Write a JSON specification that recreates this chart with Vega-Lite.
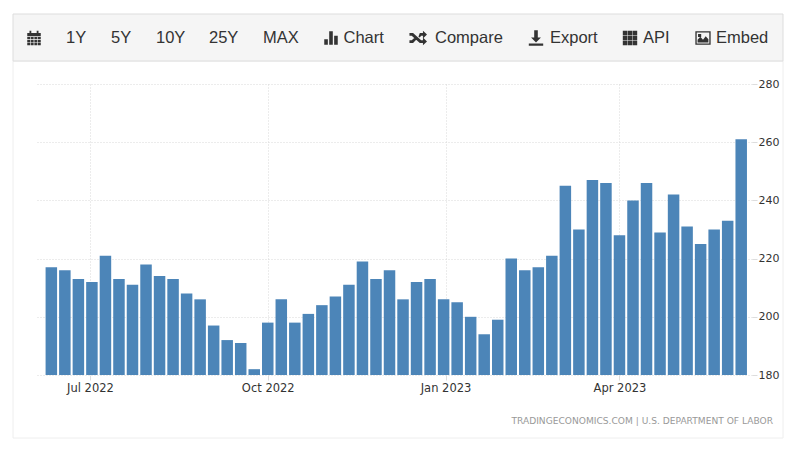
{"$schema":"https://vega.github.io/schema/vega-lite/v6.json","autosize":{"type":"none"},"width":715,"height":291,"padding":{"left":37,"top":84,"right":48,"bottom":78},"background":"#ffffff","config":{"view":{"stroke":null}},
"datasets":{"claims":[{"week":"2022-06-11","claims":217},{"week":"2022-06-18","claims":216},{"week":"2022-06-25","claims":213},{"week":"2022-07-02","claims":212},{"week":"2022-07-09","claims":221},{"week":"2022-07-16","claims":213},{"week":"2022-07-23","claims":211},{"week":"2022-07-30","claims":218},{"week":"2022-08-06","claims":214},{"week":"2022-08-13","claims":213},{"week":"2022-08-20","claims":208},{"week":"2022-08-27","claims":206},{"week":"2022-09-03","claims":197},{"week":"2022-09-10","claims":192},{"week":"2022-09-17","claims":191},{"week":"2022-09-24","claims":182},{"week":"2022-10-01","claims":198},{"week":"2022-10-08","claims":206},{"week":"2022-10-15","claims":198},{"week":"2022-10-22","claims":201},{"week":"2022-10-29","claims":204},{"week":"2022-11-05","claims":207},{"week":"2022-11-12","claims":211},{"week":"2022-11-19","claims":219},{"week":"2022-11-26","claims":213},{"week":"2022-12-03","claims":216},{"week":"2022-12-10","claims":206},{"week":"2022-12-17","claims":212},{"week":"2022-12-24","claims":213},{"week":"2022-12-31","claims":206},{"week":"2023-01-07","claims":205},{"week":"2023-01-14","claims":200},{"week":"2023-01-21","claims":194},{"week":"2023-01-28","claims":199},{"week":"2023-02-04","claims":220},{"week":"2023-02-11","claims":216},{"week":"2023-02-18","claims":217},{"week":"2023-02-25","claims":221},{"week":"2023-03-04","claims":245},{"week":"2023-03-11","claims":230},{"week":"2023-03-18","claims":247},{"week":"2023-03-25","claims":246},{"week":"2023-04-01","claims":228},{"week":"2023-04-08","claims":240},{"week":"2023-04-15","claims":246},{"week":"2023-04-22","claims":229},{"week":"2023-04-29","claims":242},{"week":"2023-05-06","claims":231},{"week":"2023-05-13","claims":225},{"week":"2023-05-20","claims":230},{"week":"2023-05-27","claims":233},{"week":"2023-06-03","claims":261}],
"labels":[{"label":"1Y","slot":1,"row":"toolbar"},{"label":"5Y","slot":2,"row":"toolbar"},{"label":"10Y","slot":3,"row":"toolbar"},{"label":"25Y","slot":4,"row":"toolbar"},{"label":"MAX","slot":5,"row":"toolbar"},{"label":"Chart","slot":6,"row":"toolbar"},{"label":"Compare","slot":7,"row":"toolbar"},{"label":"Export","slot":8,"row":"toolbar"},{"label":"API","slot":9,"row":"toolbar"},{"label":"Embed","slot":10,"row":"toolbar"}],
"icons":[{"icon":"calendar","slot":1,"row":"toolbar"},{"icon":"chart","slot":2,"row":"toolbar"},{"icon":"compare","slot":3,"row":"toolbar"},{"icon":"export","slot":4,"row":"toolbar"},{"icon":"api","slot":5,"row":"toolbar"},{"icon":"embed","slot":6,"row":"toolbar"}],
"panels":[{"panel":"frame"}],"bars":[{"panel":"toolbar"}],"source":[{"text":"TRADINGECONOMICS.COM | U.S. DEPARTMENT OF LABOR","row":"source"}]},
"resolve":{"scale":{"x":"independent","y":"independent","shape":"independent"},"axis":{"x":"independent","y":"independent"}},
"layer":[
{"data":{"name":"panels"},"mark":{"type":"rect","fillOpacity":0,"stroke":"#eeeeee","strokeWidth":1},"encoding":{"x":{"field":"panel","type":"nominal","axis":null,"scale":{"type":"band","domain":["frame"],"range":[-24,746],"paddingInner":0,"paddingOuter":0}},"y":{"field":"panel","type":"nominal","axis":null,"scale":{"type":"band","domain":["frame"],"range":[-23,354],"paddingInner":0,"paddingOuter":0}}}},
{"data":{"name":"bars"},"mark":{"type":"rect","fill":"#f5f5f5","stroke":"#dddddd","strokeWidth":1},"encoding":{"x":{"field":"panel","type":"nominal","axis":null,"scale":{"type":"band","domain":["toolbar"],"range":[-24,746],"paddingInner":0,"paddingOuter":0}},"y":{"field":"panel","type":"nominal","axis":null,"scale":{"type":"band","domain":["toolbar"],"range":[-70,-23],"paddingInner":0,"paddingOuter":0}}}},
{"data":{"name":"claims"},"mark":{"type":"bar","size":11.5,"color":"#4c85b8","clip":true},"encoding":{"x":{"field":"week","type":"temporal","title":null,"scale":{"type":"utc","nice":false,"padding":0,"domain":[{"year":2022,"month":6,"date":3,"hours":14,"utc":true},{"year":2023,"month":6,"date":8,"hours":14,"utc":true}]},"axis":{"values":[{"year":2022,"month":7,"date":1,"utc":true},{"year":2022,"month":10,"date":1,"utc":true},{"year":2023,"month":1,"date":1,"utc":true},{"year":2023,"month":4,"date":1,"utc":true}],"labelExpr":"utcFormat(datum.value,'%b %Y')","labelFont":"DejaVu Sans","labelFontSize":11.5,"labelColor":"#333333","labelPadding":2,"domain":false,"tickColor":"#dddddd","tickSize":5,"grid":true,"gridColor":"#d8d8d8","gridDash":[1,2],"gridWidth":1}},"y":{"field":"claims","type":"quantitative","stack":null,"title":null,"scale":{"domain":[180,280],"zero":false,"nice":false},"axis":{"orient":"right","values":[180,200,220,240,260,280],"labelFont":"DejaVu Sans","labelFontSize":11,"labelColor":"#333333","labelPadding":1,"domain":false,"tickColor":"#dddddd","tickSize":5,"grid":true,"gridColor":"#d8d8d8","gridDash":[1,2],"gridWidth":1}}}},
{"data":{"name":"labels"},"mark":{"type":"text","align":"left","baseline":"middle","font":"Liberation Sans","fontSize":16.5,"color":"#333333"},"encoding":{"text":{"field":"label"},"x":{"field":"slot","type":"quantitative","axis":null,"scale":{"domain":[1,2,3,4,5,6,7,8,9,10],"range":[29,74,119,172,226,306.5,398,513,606,679]}},"y":{"field":"row","type":"nominal","axis":null,"scale":{"type":"point","padding":0,"domain":["toolbar","x"],"range":[-46,0]}}}},
{"data":{"name":"icons"},"mark":{"type":"point","filled":true,"size":324,"opacity":1,"color":"#333333"},"encoding":{"x":{"field":"slot","type":"quantitative","axis":null,"scale":{"domain":[1,2,3,4,5,6],"range":[-3,294,381,499,593,666]}},"y":{"field":"row","type":"nominal","axis":null,"scale":{"type":"point","padding":0,"domain":["toolbar","x"],"range":[-46,0]}},"shape":{"field":"icon","type":"nominal","legend":null,"scale":{"domain":["calendar","chart","compare","export","api","embed"],"range":["M-.75-.55H-.5V-.8H-.3V-.55H.3V-.8H.5V-.55H.75V-.2H-.75ZM-.75-.1H-.4V.15H-.75ZM-.33-.1H-.04V.15H-.33ZM.04-.1H.33V.15H.04ZM.4-.1H.75V.15H.4ZM-.75.22H-.4V.47H-.75ZM-.33.22H-.04V.47H-.33ZM.04.22H.33V.47H.04ZM.4.22H.75V.47H.4ZM-.75.54H-.4V.8H-.75ZM-.33.54H-.04V.8H-.33ZM.04.54H.33V.8H.04ZM.4.54H.75V.8H.4Z","M-.75.15H-.35V.75H-.75ZM-.2-.75H.2V.75H-.2ZM.35-.25H.75V.75H.35Z","M-.95-.55H-.55L.35.25H.55V-.05L1 .4L.55.8V.55H.2L-.7-.25H-.95ZM-.95.25H-.7L-.35-.05L-.15.15L-.55.55H-.95ZM.05-.15L.2-.55H.55V-.8L1-.4L.55.05V-.25H.35L.2-.05Z","M-.2-.85H.2V-.05H.55L0 .5L-.55-.05H-.2ZM-.8.6H.8V.85H-.8Z","M-.8-.8H-.3V-.3H-.8ZM-.25-.8H.25V-.3H-.25ZM.3-.8H.8V-.3H.3ZM-.8-.25H-.3V.25H-.8ZM-.25-.25H.25V.25H-.25ZM.3-.25H.8V.25H.3ZM-.8.3H-.3V.8H-.8ZM-.25.3H.25V.8H-.25ZM.3.3H.8V.8H.3Z","M-.85-.75H.85V.75H-.85ZM-.7-.6V.6H.7V-.6ZM-.6.5V.2L-.3-.15L0 .2L.3-.2L.6.15V.5ZM-.55-.45H-.2V-.1H-.55Z"]}}}},
{"data":{"name":"source"},"mark":{"type":"text","align":"right","baseline":"middle","font":"DejaVu Sans","fontSize":9.1,"color":"#999999"},"encoding":{"text":{"field":"text"},"x":{"field":"row","type":"nominal","axis":null,"scale":{"type":"point","padding":0,"domain":["source","x"],"range":[736,800]}},"y":{"field":"row","type":"nominal","axis":null,"scale":{"type":"point","padding":0,"domain":["source","x"],"range":[337,400]}}}}
]}
